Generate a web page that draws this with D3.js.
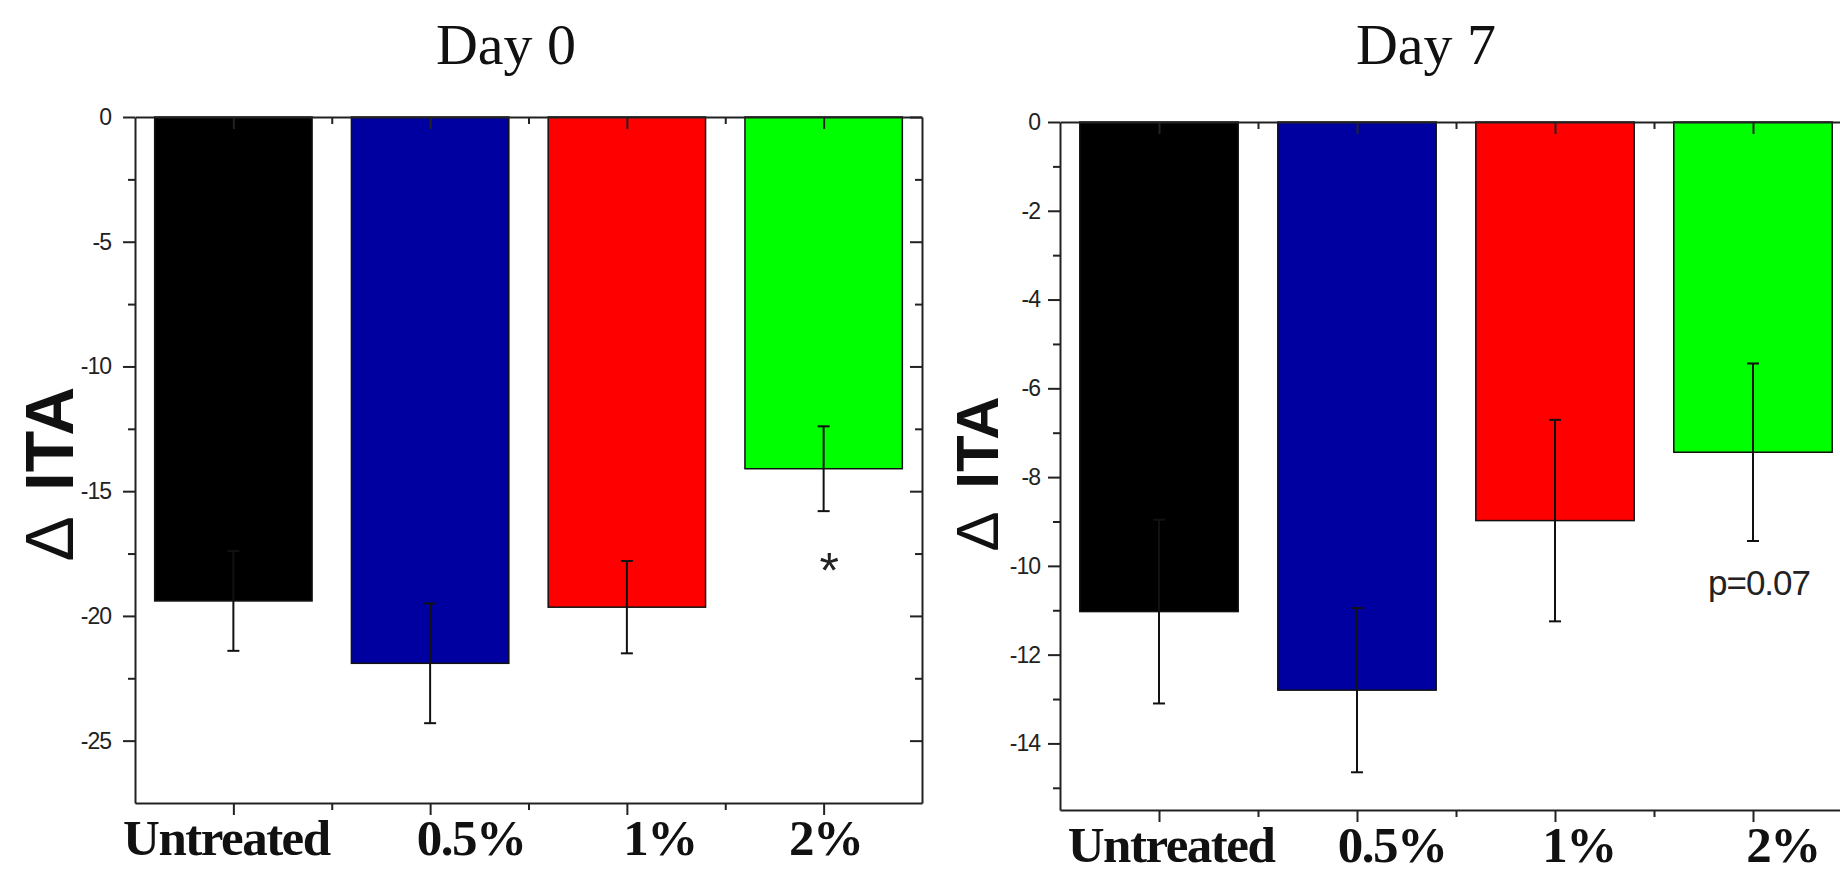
<!DOCTYPE html>
<html>
<head>
<meta charset="utf-8">
<script src="https://cdn.jsdelivr.net/npm/d3@7"></script>
<style>
  body { margin: 0; background: #fff; }
  svg { display: block; }
  .tick text { font-family: "Liberation Sans", Arial, sans-serif; fill: #222; }
</style>
</head>
<body>
<div id="chart"></div>
<script>
// data
var categories = ["Untreated", "0.5%", "1%", "2%"];
var colours = ["#000000", "#0000a0", "#ff0000", "#00ff00"];
var day0Means = [-19.4, -21.9, -19.65, -14.1];
var day0Errors = [2.0, 2.4, 1.85, 1.7];
var day7Means = [-11.03, -12.8, -8.98, -7.44];
var day7Errors = [2.07, 1.85, 2.27, 2.0];
var day0Ticks = [0, -5, -10, -15, -20, -25];
var day7Ticks = [0, -2, -4, -6, -8, -10, -12, -14];
var titles = ["Day 0", "Day 7"];
var notes = ["*", "p=0.07"];

var width = 1840, height = 892;

var svg = d3.select("#chart")
    .append("svg")
    .attr("width", width)
    .attr("height", height);

// layout of the two panels (pixels)
var panels = [
    { title: titles[0], means: day0Means, errs: day0Errors, ticks: day0Ticks, minorStep: 2.5,
      yMin: -27.5, left: 135, right: 922, top: 117, bottom: 803, pad: 12,
      labelNudge: [-7, 41, 33, 2], labelY: 855, titleX: 506, ylabX: 73, ylabSize: 68,
      note: notes[0], noteCat: 3, noteY: -18.9, noteDx: 5, noteSize: 50 },
    { title: titles[1], means: day7Means, errs: day7Errors, ticks: day7Ticks, minorStep: 1,
      yMin: -15.5, left: 1060, right: 1852, top: 122, bottom: 810, pad: 8,
      labelNudge: [12, 35, 24, 30], labelY: 862, titleX: 1426, ylabX: 998, ylabSize: 60,
      note: notes[1], noteCat: 3, noteY: -10.66, noteDx: 6, noteSize: 35 }
];

panels.forEach(drawPanel);

function drawPanel(p){
    var g = svg.append("g");

    var xScale = d3.scaleLinear()
        .domain([0.5, categories.length + 0.5])
        .range([p.left, p.right]);
    var yScale = d3.scaleLinear()
        .domain([p.yMin, 0])
        .range([p.bottom, p.top]);

    var step = xScale(2) - xScale(1);
    var barW = step * 0.8;
    var catPos = categories.map(function(d, i){ return i + 1; });
    var minorX = d3.range(1.5, categories.length, 1);
    var minorY = d3.range(0, p.yMin, -p.minorStep).filter(function(v){
        return p.ticks.indexOf(v) < 0;
    });

    // bars
    g.selectAll(".bar")
        .data(p.means)
        .enter()
        .append("rect")
        .attr("class", "bar")
        .attr("x", function(d, i){ return xScale(i + 1) - barW / 2; })
        .attr("y", yScale(0))
        .attr("width", barW)
        .attr("height", function(d){ return yScale(d) - yScale(0); })
        .style("fill", function(d, i){ return colours[i]; })
        .style("stroke", "#111")
        .style("stroke-width", 1.5);

    // error bars
    var eb = g.selectAll(".err")
        .data(p.means)
        .enter()
        .append("g")
        .attr("class", "err")
        .style("stroke", "#111")
        .style("stroke-width", 2);
    eb.append("line")
        .attr("x1", function(d, i){ return xScale(i + 1); })
        .attr("x2", function(d, i){ return xScale(i + 1); })
        .attr("y1", function(d, i){ return yScale(d + p.errs[i]); })
        .attr("y2", function(d, i){ return yScale(d - p.errs[i]); });
    [1, -1].forEach(function(sgn){
        eb.append("line")
            .attr("x1", function(d, i){ return xScale(i + 1) - 6; })
            .attr("x2", function(d, i){ return xScale(i + 1) + 6; })
            .attr("y1", function(d, i){ return yScale(d + sgn * p.errs[i]); })
            .attr("y2", function(d, i){ return yScale(d + sgn * p.errs[i]); });
    });

    // axes: left (labelled), right, top, bottom
    g.append("g")
        .attr("transform", "translate(" + p.left + ",0)")
        .call(d3.axisLeft(yScale).tickValues(p.ticks).tickSize(12).tickSizeOuter(0)
            .tickPadding(p.pad).tickFormat(function(d){ return String(d); }))
        .call(styleAxis)
        .selectAll("text")
        .style("font-size", "23px")
        .style("letter-spacing", "-1px");
    g.append("g")
        .attr("transform", "translate(" + p.left + ",0)")
        .call(d3.axisLeft(yScale).tickValues(minorY).tickSize(7).tickFormat(""))
        .call(styleAxis).select(".domain").remove();

    g.append("g")
        .attr("transform", "translate(" + p.right + ",0)")
        .call(d3.axisRight(yScale).tickValues(p.ticks).tickSize(-12).tickSizeOuter(0).tickFormat(""))
        .call(styleAxis);
    g.append("g")
        .attr("transform", "translate(" + p.right + ",0)")
        .call(d3.axisRight(yScale).tickValues(minorY).tickSize(-7).tickFormat(""))
        .call(styleAxis).select(".domain").remove();

    g.append("g")
        .attr("transform", "translate(0," + p.top + ")")
        .call(d3.axisTop(xScale).tickValues(catPos).tickSize(-12).tickSizeOuter(0).tickFormat(""))
        .call(styleAxis);
    g.append("g")
        .attr("transform", "translate(0," + p.top + ")")
        .call(d3.axisTop(xScale).tickValues(minorX).tickSize(-7).tickFormat(""))
        .call(styleAxis).select(".domain").remove();

    g.append("g")
        .attr("transform", "translate(0," + p.bottom + ")")
        .call(d3.axisBottom(xScale).tickValues(catPos).tickSize(12).tickSizeOuter(0).tickFormat(""))
        .call(styleAxis);
    g.append("g")
        .attr("transform", "translate(0," + p.bottom + ")")
        .call(d3.axisBottom(xScale).tickValues(minorX).tickSize(7).tickFormat(""))
        .call(styleAxis).select(".domain").remove();

    // category labels
    g.selectAll(".cat")
        .data(categories)
        .enter()
        .append("text")
        .attr("class", "cat")
        .attr("x", function(d, i){ return xScale(i + 1) + p.labelNudge[i]; })
        .attr("y", p.labelY)
        .attr("text-anchor", "middle")
        .style("font-family", "'Liberation Serif', 'Times New Roman', serif")
        .style("font-weight", "bold")
        .style("font-size", "51px")
        .style("letter-spacing", "-1.5px")
        .style("fill", "#111")
        .text(function(d){ return d; });

    // title
    g.append("text")
        .attr("x", p.titleX)
        .attr("y", 64)
        .attr("text-anchor", "middle")
        .style("font-family", "'Liberation Serif', 'Times New Roman', serif")
        .style("font-size", "58px")
        .style("fill", "#111")
        .text(p.title);

    // y label
    var yl = g.append("text")
        .attr("transform", "translate(" + p.ylabX + ",474) rotate(-90)")
        .attr("text-anchor", "middle")
        .style("font-family", "'Liberation Sans', Arial, sans-serif")
        .style("font-size", p.ylabSize + "px")
        .style("fill", "#111");
    yl.append("tspan").style("font-weight", "normal").text("\u0394");
    yl.append("tspan").attr("dx", 6).style("font-weight", "bold").text(" ITA");

    // significance note
    g.append("text")
        .attr("x", xScale(p.noteCat + 1) + p.noteDx)
        .attr("y", yScale(p.noteY))
        .attr("text-anchor", "middle")
        .style("font-family", "'Liberation Sans', Arial, sans-serif")
        .style("font-size", p.noteSize + "px")
        .style("letter-spacing", "-1px")
        .style("fill", "#222")
        .text(p.note);
}

function styleAxis(sel){
    sel.selectAll("path, line")
        .style("stroke", "#222")
        .style("stroke-width", 2);
}
</script>
</body>
</html>
